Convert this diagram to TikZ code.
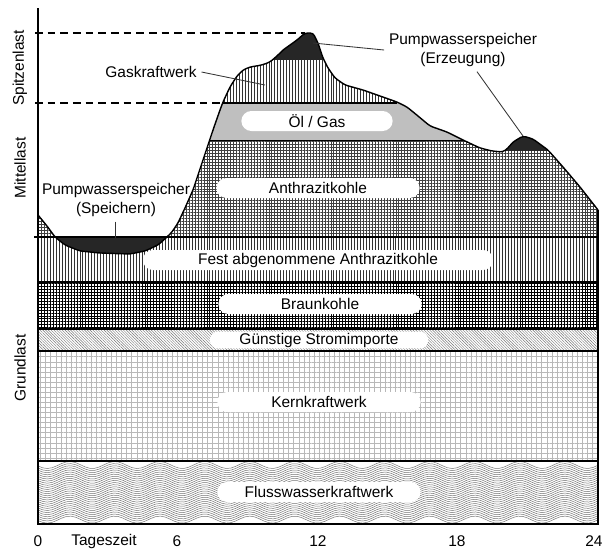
\documentclass[tikz,border=0pt]{standalone}
\usepackage{fontspec}
\setmainfont{Liberation Sans}
\usetikzlibrary{patterns.meta}

% Lastkurve ueber den Tag (Pixelraster des Originals)
\newcommand{\lastgang}{(38,215) -- (47,226) -- (55,237) -- (65,245) -- (80,251) -- (100,253) -- (130,254) -- (145,251) -- (158,245) -- (167,237) -- (172,232) -- (178,223) -- (185,208) -- (193,190) -- (203,160) -- (213,130) -- (220,110) -- (223,102) -- (230,87) -- (237,76) -- (243,70) -- (250,67) -- (262,65) -- (270,62) -- (277,56) -- (283,50) -- (297,40) -- (305,33) -- (313,33) -- (318,43) -- (323,58) -- (328,68) -- (335,78) -- (345,85) -- (363,90) -- (380,96) -- (397,102) -- (407,107) -- (418,116) -- (430,126) -- (447,132) -- (463,140) -- (480,148) -- (492,151) -- (503,152) -- (508,148) -- (513,142) -- (523,136) -- (533,139) -- (548,150) -- (563,167) -- (580,187) -- (598,210)}

\begin{document}
\begin{tikzpicture}[x=0.025cm,y=-0.025cm,
	font=\fontsize{11}{13.5}\selectfont,
	schild/.style={fill=white,rounded corners=0.25cm,inner sep=0pt,minimum height=0.5cm,minimum width=5.08cm},
	grenze/.style={line width=1.1pt},
	zeiger/.style={line width=0.6pt,black!80},
	senkrecht/.style={pattern={Lines[angle=90,distance=2.1pt,line width=0.3pt]},pattern color=black!80},
	gitter/.style={pattern={Hatch[distance=2.1pt,line width=0.28pt]},pattern color=black!75},
	dunkel/.style={fill=black!85}]

\useasboundingbox (0,0) rectangle (614,549);

% Grundlast
\fill[senkrecht] (38,237) rectangle (598,282);
\fill[gitter,pattern color=black] (38,282) rectangle (598,329);
\fill[pattern={Lines[angle=-45,distance=1.4pt,line width=0.3pt]},pattern color=black!55] (38,329) rectangle (598,351);
\fill[pattern={Hatch[distance=3.6pt,line width=0.25pt]},pattern color=black!28] (38,351) rectangle (598,461);
\begin{scope}
	\clip (38,461) rectangle (598,524);
	\foreach \i in {0,...,26}
		\draw[black!55,line width=0.35pt] plot[domain=38:598,samples=120] (\x,{465+2.1*\i+3.5*sin(8*(\x-36))});
\end{scope}

% Pumpwasserspeicher beim Speichern
\fill[dunkel] (55,237) -- (65,245) -- (80,251) -- (100,253) -- (130,254) -- (145,251) -- (158,245) -- (167,237) -- cycle;

% Mittel- und Spitzenlast unter der Lastkurve
\begin{scope}
	\clip[rounded corners=2pt] \lastgang -- (598,237) -- (38,237) -- cycle;
	\fill[senkrecht] (38,30) rectangle (598,103);
	\fill[black!25] (38,103) rectangle (598,140);
	\fill[gitter] (38,140) rectangle (598,237);
	\fill[dunkel] (270,28) rectangle (330,60);
	\fill[dunkel] (498,125) rectangle (552,151);
\end{scope}

% Trennlinien
\draw[grenze] (34,237) -- (598,237);
\draw[grenze] (38,282) -- (598,282);
\draw[grenze] (38,329) -- (598,329);
\draw[grenze] (38,351) -- (598,351);
\draw[grenze] (38,461) -- (598,461);
\draw[grenze] (222,103) -- (397,103);
\draw[thin] (210,140) -- (463,140);

\draw[thick,dash pattern=on 5.5pt off 3.5pt] (35,33) -- (305,33);
\draw[thick,dash pattern=on 5.5pt off 3.5pt] (35,103) -- (222,103);

% Achsen und Kurve
\draw[line width=1pt] (38,8) -- (38,524) -- (598,524) -- (598,210);
\draw[line width=1pt,rounded corners=2pt] \lastgang;

% Beschriftung der Achsen
\node[rotate=90] (spitze) at (20,68) {Spitzenlast};
\node[rotate=90] (mittel) at (20,168) {Mittellast};
\node[rotate=90] (grund) at (20,368) {Grundlast};

\node (t0) at (38,541) {0};
\node (tz) at (104,541) {Tageszeit};
\node (t6) at (177,541) {6};
\node (t12) at (318,541) {12};
\node (t18) at (457,541) {18};
\node (t24) at (594,541) {24};

% Schilder
\node[schild,minimum width=3.78cm] (oel) at (317,121) {Öl / Gas};
\node[schild] (anthrazit) at (318,188) {Anthrazitkohle};
\node[schild,minimum width=8.75cm] (fest) at (318,260) {Fest abgenommene Anthrazitkohle};
\node[schild] (braun) at (320,304) {Braunkohle};
\node[schild,minimum width=5.45cm,minimum height=0.42cm,rounded corners=0.2cm] (import) at (319,340) {Günstige Stromimporte};
\node[schild] (kern) at (319,402) {Kernkraftwerk};
\node[schild] (fluss) at (319,492) {Flusswasserkraftwerk};

% Hinweise mit Zeigern
\node (gas) at (151,72) {Gaskraftwerk};
\coordinate (gasziel) at (265,85);
\draw[zeiger] (gas.east) -- (gasziel);

\node[align=center] (pwspeichern) at (116,200) {Pumpwasserspeicher\\(Speichern)};
\coordinate (speicherziel) at (115,238);
\draw[zeiger] (pwspeichern.south -| speicherziel) -- (speicherziel);

\node[align=center] (pwerzeugung) at (463,50) {Pumpwasserspeicher\\(Erzeugung)};
\coordinate (spitzeziel) at (313,43);
\coordinate (hoeckerziel) at (523,136);
\draw[zeiger] (spitzeziel) -- (pwerzeugung.west);
\draw[zeiger] ([xshift=0.35cm]pwerzeugung.south) -- (hoeckerziel);

\end{tikzpicture}
\end{document}
